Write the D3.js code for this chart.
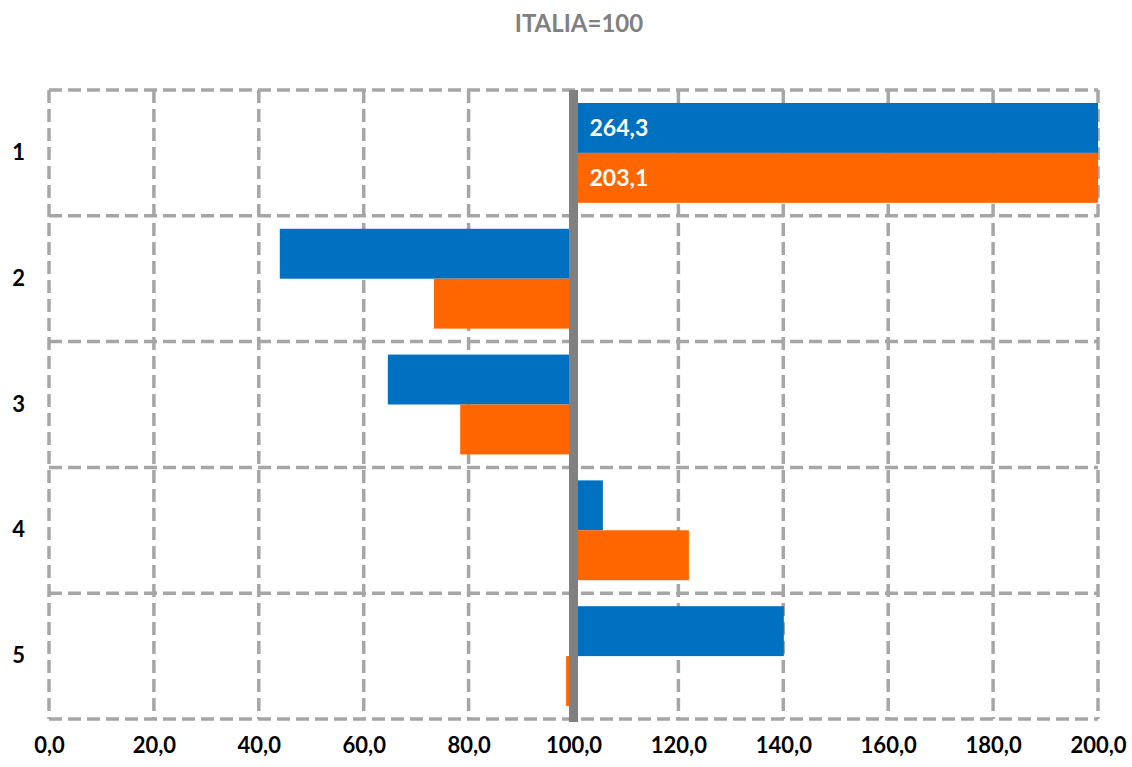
<!DOCTYPE html>
<html>
<head>
<meta charset="utf-8">
<script src="https://cdn.jsdelivr.net/npm/d3@7"></script>
<style>
  body { margin: 0; background: #fff; }
  text { font-family: Lato, "Open Sans", sans-serif; }
</style>
</head>
<body>
<div id="chart"></div>
<script>
// data
var categories = ["1", "2", "3", "4", "5"];
var seriesBlue = [264.3, 44.0, 64.6, 105.6, 140.1];
var seriesOrange = [203.1, 73.4, 78.4, 122.0, 98.6];
var xTicks = [0, 20, 40, 60, 80, 100, 120, 140, 160, 180, 200];

var width = 1132, height = 767;
var colors = ["#0070C0", "#FF6600"];
var base = 100;
var fmt = function(v) { return d3.format(".1f")(v).replace(".", ","); };

var svg = d3.select("#chart").append("svg")
    .attr("width", width)
    .attr("height", height);

var x = d3.scaleLinear().domain([0, 200]).range([49, 1098]);
var y = d3.scaleBand().domain(categories).range([90, 719]);
var sub = d3.scaleBand().domain([0, 1]).range([0, y.bandwidth()]).paddingOuter(0.26);

// title
svg.append("text")
    .attr("x", 579).attr("y", 32)
    .attr("text-anchor", "middle")
    .style("font-size", "24px").style("font-weight", "bold")
    .style("fill", "#808080")
    .text("ITALIA=100");

// grid
var grid = svg.append("g").attr("class", "grid")
    .style("stroke", "#A6A6A6").style("stroke-width", 3.5)
    .style("stroke-dasharray", "13,6");
grid.selectAll("line.v").data(xTicks).enter().append("line")
    .attr("x1", d => x(d)).attr("x2", d => x(d))
    .attr("y1", y.range()[0]).attr("y2", y.range()[1]);
var hLines = categories.map(c => y(c)).concat([y.range()[1]]);
grid.selectAll("line.h").data(hLines).enter().append("line")
    .attr("x1", x(0)).attr("x2", x(200))
    .attr("y1", d => d).attr("y2", d => d);

// bars
var series = [seriesBlue, seriesOrange];
series.forEach(function(vals, s) {
    svg.append("g").selectAll("rect")
        .data(vals)
        .enter()
        .append("rect")
        .attr("x", d => x(Math.min(base, Math.min(d, 200))))
        .attr("y", (d, i) => y(categories[i]) + sub(s))
        .attr("width", d => Math.abs(x(Math.min(d, 200)) - x(base)))
        .attr("height", sub.bandwidth())
        .style("fill", colors[s]);

    // labels for clipped values
    svg.append("g").selectAll("text")
        .data(vals.map((v, i) => ({v: v, i: i})).filter(d => d.v > 200))
        .enter()
        .append("text")
        .attr("x", x(base) + 16)
        .attr("y", d => y(categories[d.i]) + sub(s) + sub.bandwidth() / 2 + 8)
        .style("font-size", "23px").style("font-weight", "bold")
        .style("fill", "#fff")
        .text(d => fmt(d.v));
});

// baseline at 100
svg.append("line")
    .attr("x1", x(base)).attr("x2", x(base))
    .attr("y1", y.range()[0]).attr("y2", y.range()[1] + 3)
    .style("stroke", "#808080").style("stroke-width", 9);

// x axis labels
var xAxis = d3.axisBottom(x).tickValues(xTicks).tickFormat(fmt).tickSize(0);
var xg = svg.append("g")
    .attr("transform", "translate(0," + 734 + ")")
    .call(xAxis);
xg.select(".domain").remove();
xg.selectAll("text").style("font-size", "22px").style("font-weight", "bold")
    .style("fill", "#000").style("font-family", "Lato, 'Open Sans', sans-serif");

// y axis labels
var yAxis = d3.axisLeft(y).tickSize(0).tickPadding(0);
var yg = svg.append("g")
    .attr("transform", "translate(25,0)")
    .call(yAxis);
yg.select(".domain").remove();
yg.selectAll("text").style("font-size", "22px").style("font-weight", "bold")
    .style("fill", "#000").style("font-family", "Lato, 'Open Sans', sans-serif");
</script>
</body>
</html>
